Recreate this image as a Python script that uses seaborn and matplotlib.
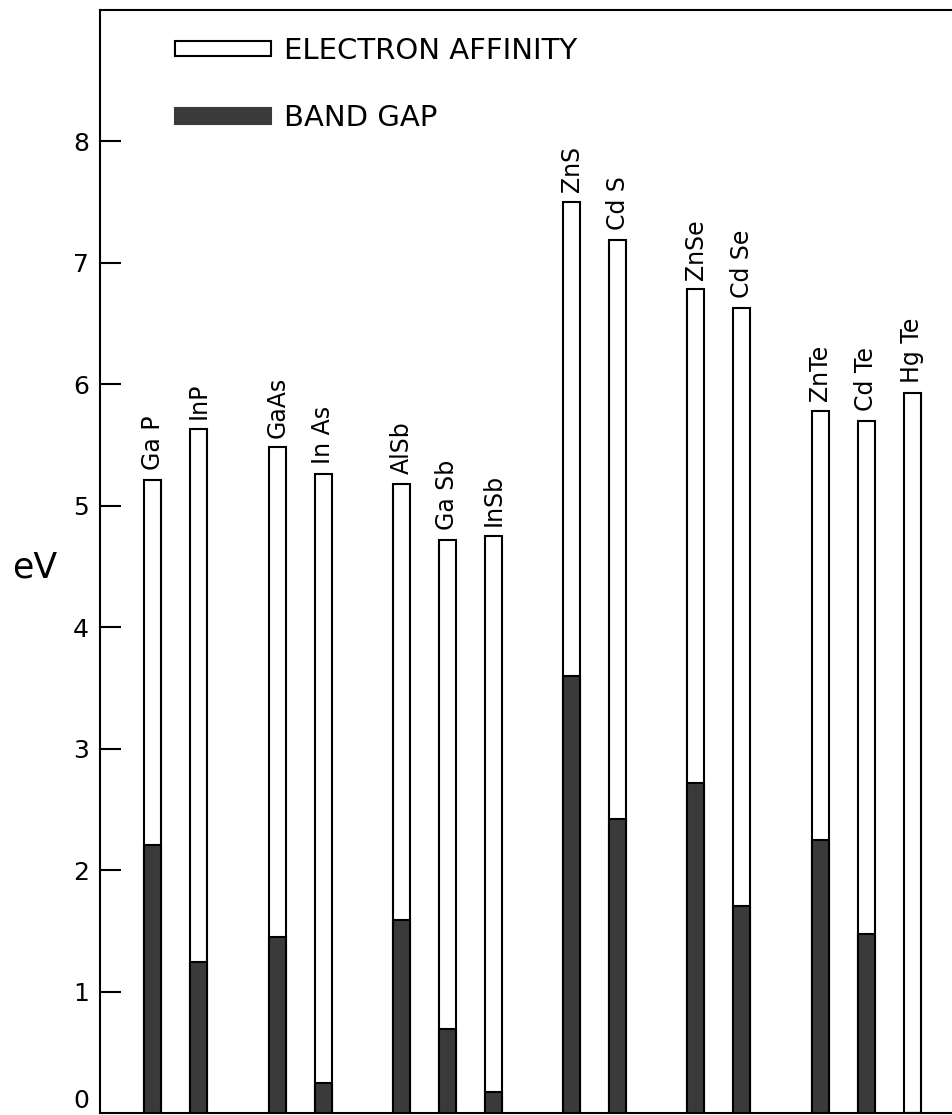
import numpy as np
import pandas as pd
import seaborn as sns
import matplotlib.pyplot as plt
from matplotlib.patches import Patch
from matplotlib.transforms import ScaledTranslation

# band gap / electron affinity of III-V and II-VI compounds

compounds = ["Ga P", "InP", "GaAs", "In As", "AlSb", "Ga Sb", "InSb",
             "ZnS", "Cd S", "ZnSe", "Cd Se", "ZnTe", "Cd Te", "Hg Te"]
family = [0, 0, 1, 1, 2, 2, 2, 3, 3, 4, 4, 5, 5, 5]
band_gap = [2.21, 1.24, 1.45, 0.25, 1.59, 0.69, 0.17,
            3.60, 2.42, 2.72, 1.70, 2.25, 1.47, 0.0]
electron_affinity = [3.00, 4.39, 4.03, 5.01, 3.59, 4.03, 4.58,
                     3.90, 4.77, 4.06, 4.93, 3.53, 4.23, 5.93]
yticks = [1, 2, 3, 4, 5, 6, 7, 8]

df = pd.DataFrame({"name": compounds, "family": family,
                   "gap": band_gap, "ea": electron_affinity})
df["top"] = df["gap"] + df["ea"]
# slot per bar plus an extra gap between compound families
df["pos"] = np.arange(len(df)) + df["family"] * 0.7

sns.set_style("ticks")
plt.rcParams["font.family"] = ["DejaVu Sans"]
plt.rcParams["text.color"] = "black"
plt.rcParams["ytick.color"] = "black"
plt.rcParams["ytick.labelcolor"] = "black"

W, H = 953, 1115
fig = plt.figure(figsize=(W / 100, H / 100), dpi=100)
ax = fig.add_axes([100 / W, 2 / H, 1 - 100 / W, (1113 - 10) / H])

dark = "#3a3a3a"
sns.barplot(data=df, x="pos", y="top", native_scale=True, width=0.37,
            color="white", edgecolor="black", linewidth=1.5,
            errorbar=None, ax=ax, zorder=2)
ax.bar_label(ax.containers[0], labels=df["name"], rotation=90,
             padding=7, fontsize=17, color="black")
sns.barplot(data=df, x="pos", y="gap", native_scale=True, width=0.37,
            color=dark, edgecolor="black", linewidth=1.5, saturation=1,
            errorbar=None, ax=ax, zorder=3)

ax.set_xlim(-1.15, 17.39)
ax.set_ylim(0, 9.08)
ax.set_yticks(yticks)
ax.set_yticks([0], minor=True)
ax.set_yticklabels([str(t) for t in yticks])
ax.tick_params(axis="y", which="major", direction="in", length=15, width=1.5,
               labelsize=18, pad=8)
ax.tick_params(axis="y", which="minor", length=0, labelsize=18, pad=8)
ax.set_yticklabels(["0"], minor=True)
for lab in ax.get_yticklabels(minor=True):
    lab.set_transform(lab.get_transform() + ScaledTranslation(0, 0.14, fig.dpi_scale_trans))
ax.set_xticks([])
ax.set_xlabel("")
ax.set_ylabel("")
fig.text(35 / W, 1 - 568 / H, "eV", fontsize=25, ha="center", va="center")

for side in ["left", "bottom", "top"]:
    ax.spines[side].set_linewidth(1.5)
    ax.spines[side].set_color("black")
ax.spines["right"].set_visible(False)

handles = [Patch(facecolor="white", edgecolor="black", linewidth=1.5),
           Patch(facecolor=dark, edgecolor=dark, linewidth=1.5)]
ax.legend(handles, ["ELECTRON AFFINITY", "BAND GAP"], loc="upper left",
          bbox_to_anchor=(175 / W, 1 - 37 / H), bbox_transform=fig.transFigure,
          frameon=False, fontsize=21, handlelength=3.3, handleheight=0.42,
          handletextpad=0.45, labelspacing=1.35, borderpad=0, borderaxespad=0)

fig.savefig("out.png", dpi=100)
